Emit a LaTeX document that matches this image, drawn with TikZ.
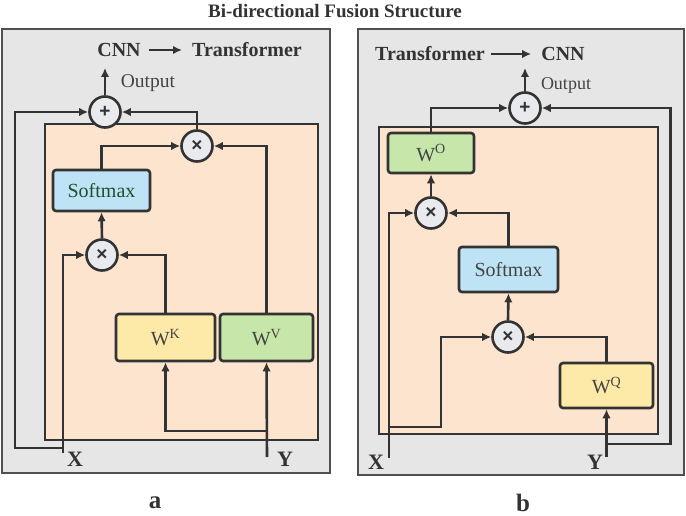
\documentclass[tikz,border=0pt]{standalone}
\usepackage{fontspec}
\setmainfont{Liberation Serif}
\newfontfamily\symf{Liberation Sans}
\usetikzlibrary{arrows.meta}
\definecolor{panelgray}{HTML}{E6E6E6}
\definecolor{panelline}{HTML}{505050}
\definecolor{innerfill}{HTML}{FDE4CE}
\definecolor{dark}{HTML}{333333}
\definecolor{bluefill}{HTML}{BEE3F5}
\definecolor{yellowfill}{HTML}{FDE9A8}
\definecolor{greenfill}{HTML}{C7E6AA}
\definecolor{circfill}{HTML}{E9EAEE}
\definecolor{softgreen}{HTML}{1F4F2E}
\definecolor{wtext}{HTML}{444444}
\tikzset{
  panel/.style={fill=panelgray, draw=panelline, line width=2.2pt},
  innerbox/.style={fill=innerfill, draw=dark, line width=2.4pt},
  opbox/.style={draw=dark, line width=2.6pt, rounded corners=3pt, inner sep=0pt, font=\fontsize{20}{22}\selectfont, text=wtext},
  opcirc/.style={circle, draw=dark, line width=2.6pt, fill=circfill, minimum size=31pt, inner sep=0pt, font=\symf\bfseries\fontsize{19}{20}\selectfont, text=dark},
  conn/.style={draw=dark, line width=2.6pt},
  arr/.style={conn, -{Latex[length=9pt,width=8.5pt]}},
  lbl/.style={inner sep=0pt, text=dark},
}
\begin{document}
\begin{tikzpicture}[x=1pt,y=-1pt]
\useasboundingbox (0,0) rectangle (686,516);
\fill[white] (0,0) rectangle (686,516);

\node[lbl, font=\bfseries\fontsize{19}{21}\selectfont] (title) at (335,11) {Bi-directional Fusion Structure};

% ---------- panel a ----------
\draw[panel] (2,29) rectangle (330,473);
\draw[innerbox] (45,124) rectangle (318,440);

\node[lbl, font=\bfseries\fontsize{20}{22}\selectfont] (cnnA) at (119,50) {CNN};
\node[lbl, font=\bfseries\fontsize{20}{22}\selectfont] (trA) at (247,50) {Transformer};
\draw[arr] ([xshift=8pt]cnnA.east) -- ([xshift=-10pt]trA.west);
\node[lbl, font=\fontsize{19.5}{21}\selectfont, text=wtext] (outA) at (148,83) {Output};

\node[opcirc] (pa) at (105,112) {+};
\node[opcirc] (ma2) at (197,146) {×};
\node[opcirc] (ma1) at (102,255) {×};
\node[opbox, fill=bluefill, minimum width=97pt, minimum height=41pt, text=softgreen] (sa) at (101.5,190.5) {Softmax};
\node[opbox, fill=yellowfill, minimum width=99pt, minimum height=47pt] (wk) at (165.5,337.5) {W\textsuperscript{K}};
\node[opbox, fill=greenfill, minimum width=93pt, minimum height=47pt] (wv) at (266.5,337.5) {W\textsuperscript{V}};

\coordinate (outAend) at (105,68);
\coordinate (xa) at (63,453);
\coordinate (xa1) at (63,448);
\coordinate (ya) at (267,457);
\coordinate (ya1) at (267,431);

\draw[arr] (pa.north) -- (outAend);
\draw[arr] (xa) |- (ma1.west);
\draw[arr] (xa1) -- ++(-48,0) |- (pa.west);
\draw[arr] (ma2.north) |- (pa.east);
\draw[arr] (sa.north) |- (ma2.west);
\draw[arr] (ma1.north) -- (sa.south);
\draw[arr] (wk.north) |- (ma1.east);
\draw[arr] (wv.north) |- (ma2.east);
\draw[arr] (ya) -- (wv.south);
\draw[arr] (ya1) -| (wk.south);

\node[lbl, font=\bfseries\fontsize{22}{24}\selectfont] (xlA) at (75,459) {X};
\node[lbl, font=\bfseries\fontsize{22}{24}\selectfont] (ylA) at (285,459) {Y};
\node[lbl, font=\bfseries\fontsize{25}{26}\selectfont] (la) at (155,503) {a};

% ---------- panel b ----------
\draw[panel] (358,29) rectangle (684,475);
\draw[innerbox] (379,127) rectangle (658,434);

\node[lbl, font=\bfseries\fontsize{20}{22}\selectfont] (trB) at (430,54) {Transformer};
\node[lbl, font=\bfseries\fontsize{20}{22}\selectfont] (cnnB) at (563,54) {CNN};
\draw[arr] ([xshift=6pt]trB.east) -- ([xshift=-10pt]cnnB.west);
\node[lbl, font=\fontsize{18}{20}\selectfont, text=wtext] (outB) at (566,85) {Output};

\node[opcirc] (pb) at (525,108) {+};
\node[opcirc] (mb1) at (431,213) {×};
\node[opcirc] (mb2) at (508,337) {×};
\node[opbox, fill=greenfill, minimum width=86pt, minimum height=40pt] (wo) at (431,153) {W\textsuperscript{O}};
\node[opbox, fill=bluefill, minimum width=99pt, minimum height=45pt] (sb) at (508.5,269.5) {Softmax};
\node[opbox, fill=yellowfill, minimum width=93pt, minimum height=45pt] (wq) at (606.5,385.5) {W\textsuperscript{Q}};

\coordinate (outBend) at (525,68);
\coordinate (xb) at (389,458);
\coordinate (xb1) at (389,427);
\coordinate (yb) at (606.5,457);
\coordinate (yb1) at (606.5,444);

\draw[arr] (pb.north) -- (outBend);
\draw[arr] (wo.north) |- (pb.west);
\draw[arr] (mb1.north) -- (wo.south);
\draw[arr] (xb) |- (mb1.west);
\draw[arr] (xb1) -- ++(52,0) |- (mb2.west);
\draw[arr] (sb.north) |- (mb1.east);
\draw[arr] (mb2.north) -- (sb.south);
\draw[arr] (wq.north) |- (mb2.east);
\draw[arr] (yb) -- (wq.south);
\draw[arr] (yb1) -- ++(64,0) |- (pb.east);

\node[lbl, font=\bfseries\fontsize{22}{24}\selectfont] (xlB) at (376,462) {X};
\node[lbl, font=\bfseries\fontsize{22}{24}\selectfont] (ylB) at (595,462) {Y};
\node[lbl, font=\bfseries\fontsize{25}{26}\selectfont] (lb) at (523,503) {b};
\end{tikzpicture}
\end{document}
